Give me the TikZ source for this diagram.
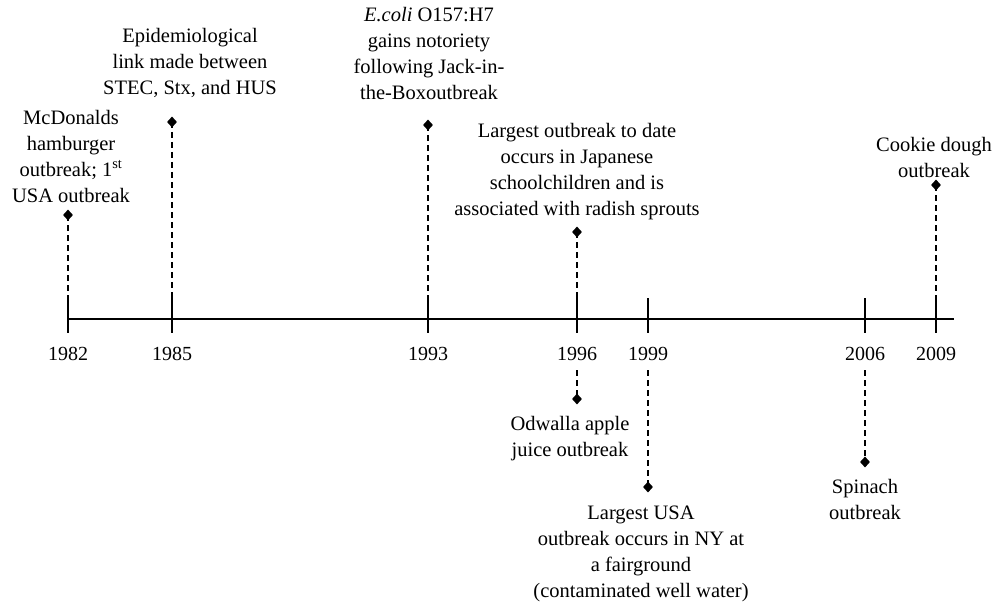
\documentclass[tikz,border=0pt]{standalone}
\usepackage{fontspec}
\setmainfont{Liberation Serif}
\usetikzlibrary{shapes.geometric}
\begin{document}
\begin{tikzpicture}[x=1pt,y=-1pt,
  lbl/.style={align=center,inner sep=0pt,font=\fontsize{20.5}{26}\selectfont},
  yr/.style={inner sep=0pt,font=\fontsize{20}{26}\selectfont},
  mk/.style={diamond,fill=black,draw=none,minimum width=10pt,minimum height=11pt,inner sep=0pt},
  dline/.style={line width=1.1pt,dash pattern=on 6pt off 4pt},
  axis/.style={line width=1.1pt}]
\useasboundingbox (0,0) rectangle (996,607);
% axis
\coordinate (a0) at (68,319);
\coordinate (a1) at (954,319);
\draw[axis] (a0) -- (a1);
% ticks
\foreach \n/\x in {t82/68,t85/172,t93/428,t96/577,t99/648,t06/865,t09/936}{
  \coordinate (\n top) at (\x,298);
  \coordinate (\n bot) at (\x,333);
  \draw[axis] (\n top) -- (\n bot);
}
% years
\node[yr] (y82) at (68,354) {1982};
\node[yr] (y85) at (172,354) {1985};
\node[yr] (y93) at (428,354) {1993};
\node[yr] (y96) at (577,354) {1996};
\node[yr] (y99) at (648,354) {1999};
\node[yr] (y06) at (865,354) {2006};
\node[yr] (y09) at (936,354) {2009};
% markers above
\node[mk] (m82) at (68,215) {};
\node[mk] (m85) at (172,122) {};
\node[mk] (m93) at (428,125) {};
\node[mk] (m96a) at (577,232) {};
\node[mk] (m09) at (936,185) {};
% markers below
\node[mk] (m96b) at (577,399) {};
\node[mk] (m99) at (648,487) {};
\node[mk] (m06) at (865,462) {};
% dashed connectors
\draw[dline] (m82.center) -- (t82top);
\draw[dline] (m85.center) -- (t85top);
\draw[dline] (m93.center) -- (t93top);
\draw[dline] (m96a.center) -- (t96top);
\draw[dline] (m09.center) -- (t09top);
\coordinate (b96) at (577,370);
\coordinate (b99) at (648,370);
\coordinate (b06) at (865,370);
\draw[dline] (b96) -- (m96b.center);
\draw[dline] (b99) -- (m99.center);
\draw[dline] (b06) -- (m06.center);
% labels
\node[lbl] (l82) at (71,156) {McDonalds\\hamburger\\outbreak; 1\textsuperscript{st}\\USA outbreak};
\node[lbl] (l85) at (190,63) {Epidemiological\\link made between\\STEC, Stx, and HUS};
\node[lbl] (l93) at (429,53) {\textit{E.coli} O157:H7\\gains notoriety\\following Jack-in-\\the-Boxoutbreak};
\node[lbl] (l96a) at (577,172) {Largest outbreak to date\\occurs in Japanese\\schoolchildren and is\\associated with radish sprouts};
\node[lbl] (l09) at (934,157) {Cookie dough\\outbreak};
\node[lbl] (l96b) at (570,439) {Odwalla apple\\juice outbreak};
\node[lbl] (l99) at (641,554) {Largest USA\\outbreak occurs in NY at\\a fairground\\(contaminated well water)};
\node[lbl] (l06) at (865,499) {Spinach\\outbreak};
\end{tikzpicture}
\end{document}
